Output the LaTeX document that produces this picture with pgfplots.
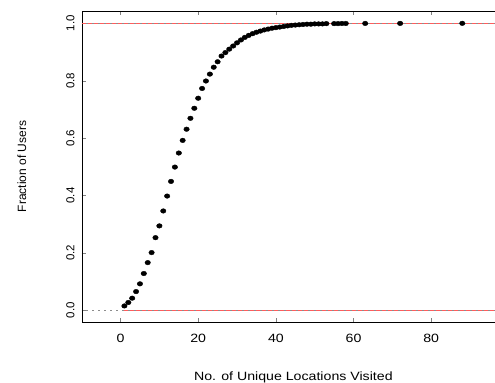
\documentclass[border=0pt]{standalone}
\usepackage{fontspec}
\setmainfont{Liberation Sans}[FakeStretch=1.18]
\newfontfamily\rotfont{Liberation Sans}
\usepackage{pgfplots}
\pgfplotsset{compat=1.18}
\definecolor{rlineA}{HTML}{FF5C5C}
\definecolor{rlineB}{HTML}{FF5D5D}
\definecolor{glineA}{HTML}{8C8C8C}
\definecolor{glineB}{HTML}{8D8D8D}
\begin{document}
\begin{tikzpicture}
\begin{axis}[
  at={(81.7bp,61bp)}, anchor=south west,
  scale only axis, width=423.3bp, height=311bp,
  xmin=-10, xmax=99, ymin=-0.041, ymax=1.043,
  xtick={0,20,40,60,80},
  ytick={0,0.2,0.4,0.6,0.8,1.0},
  /pgf/number format/assume math mode=true,
  yticklabel={\pgfmathprintnumber[fixed,fixed zerofill,precision=1]{\tick}},
  xticklabel style={font=\fontsize{12bp}{14bp}\selectfont, anchor=north, inner sep=0pt, yshift=-11.7bp},
  yticklabel style={font=\rotfont\fontsize{11.5bp}{14bp}\selectfont, rotate=90, anchor=south, inner xsep=0pt, inner ysep=7bp},
  every axis x label/.style={at={(axis description cs:0.5,-0.1887)}, anchor=base, font=\fontsize{12bp}{14bp}\selectfont},
  every axis y label/.style={at={(axis description cs:-0.1417,0.5)}, rotate=90, anchor=center, font=\rotfont\fontsize{12bp}{14bp}\selectfont},
  xlabel={No. of Unique Locations Visited},
  ylabel={Fraction of Users},
]
\addplot[glineA, line width=0.8pt, dash pattern=on 2bp off 4bp, dash phase=-4bp] coordinates {(-9.9,0) (98.9,0)};
\addplot[rlineA, line width=0.8pt, dash pattern=on 4bp off 2bp] coordinates {(1,0) (98.9,0)};
\addplot[glineB, line width=0.8pt, dash pattern=on 2bp off 4bp, dash phase=-4bp] coordinates {(-9.9,1) (98.9,1)};
\addplot[rlineB, line width=0.8pt, dash pattern=on 4bp off 2bp] coordinates {(-9.9,1) (98.9,1)};
\addplot[only marks, mark=*, mark size=2.3pt, mark options={xscale=1.2, fill=black, draw=black}] coordinates {
(1,0.015) (2,0.027) (3,0.042) (4,0.065) (5,0.092) (6,0.128) (7,0.166) (8,0.201)
(9,0.253) (10,0.294) (11,0.346) (12,0.398) (13,0.449) (14,0.499) (15,0.548)
(16,0.592) (17,0.631) (18,0.669) (19,0.704) (20,0.739) (21,0.773) (22,0.799)
(23,0.823) (24,0.847) (25,0.866) (26,0.886) (27,0.898) (28,0.910) (29,0.921)
(30,0.932) (31,0.942) (32,0.951) (33,0.958) (34,0.964) (35,0.969) (36,0.973)
(37,0.977) (38,0.980) (39,0.983) (40,0.985) (41,0.987) (42,0.989) (43,0.991)
(44,0.993) (45,0.994) (46,0.995) (47,0.996) (48,0.997) (49,0.997) (50,0.998)
(51,0.998) (52,0.998) (53,0.999) (55,0.999) (56,0.999) (57,0.9995) (58,0.9995)
(63,0.9997) (72,0.9998) (88,1.0)
};
\end{axis}
\pgfresetboundingbox
\path[use as bounding box] (0,0) rectangle (495bp,383bp);
\end{tikzpicture}
\end{document}
